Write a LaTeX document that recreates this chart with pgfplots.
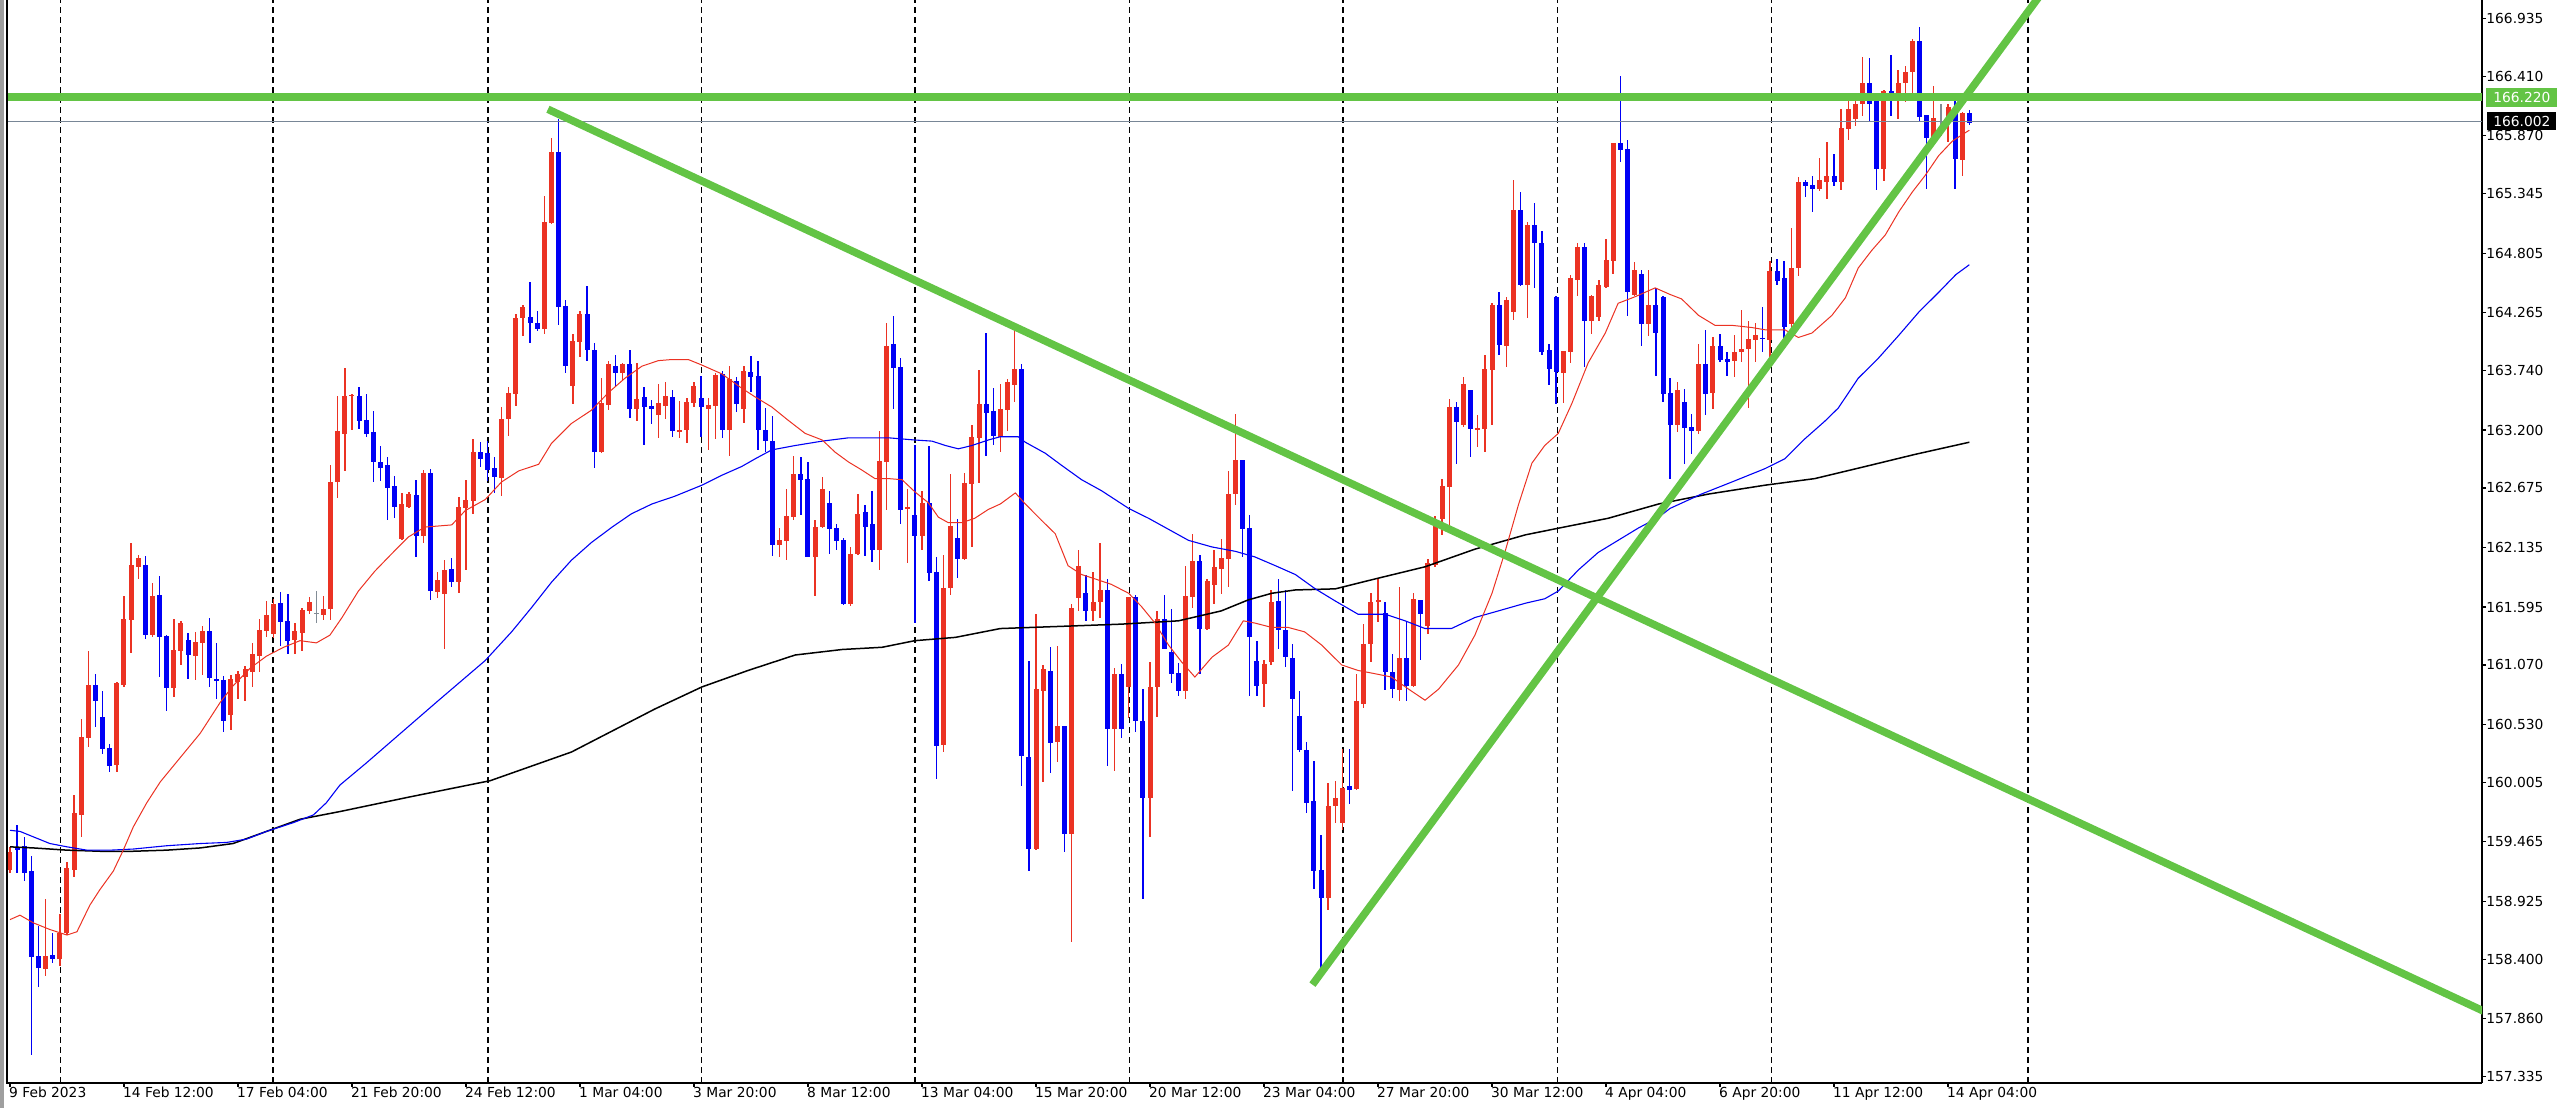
\documentclass[border=0pt]{standalone}
\usepackage{fontspec}
\setmainfont{DejaVu Sans}
\usepackage{pgfplots}
\pgfplotsset{compat=1.18}
\usepackage{pgfplotstable}
\definecolor{cred}{RGB}{235,50,35}
\definecolor{cblue}{RGB}{0,0,245}
\definecolor{cgreen}{RGB}{99,196,69}
\definecolor{cgray}{RGB}{120,134,150}
\definecolor{cdoji}{RGB}{130,140,150}

\pgfplotstableread{
i o h l c d
0 159.21 159.42 159.18 159.37 1
1 159.42 159.62 159.18 159.39 -1
2 159.43 159.51 159.11 159.18 -1
3 159.20 159.34 157.53 158.42 -1
4 158.43 158.70 158.15 158.32 -1
5 158.31 158.95 158.25 158.43 1
6 158.44 158.64 158.37 158.40 -1
7 158.40 158.81 158.34 158.64 1
8 158.64 159.28 158.62 159.23 1
9 159.21 159.89 159.15 159.73 1
10 159.71 160.58 159.51 160.42 1
11 160.41 161.20 160.33 160.89 1
12 160.89 160.99 160.51 160.74 -1
13 160.60 160.83 160.26 160.31 -1
14 160.32 160.35 160.10 160.15 -1
15 160.16 160.92 160.10 160.91 1
16 160.89 161.70 160.87 161.49 1
17 161.48 162.18 161.18 161.98 1
18 161.96 162.07 161.85 162.04 1
19 161.98 162.06 161.31 161.34 -1
20 161.34 161.81 161.32 161.70 1
21 161.70 161.88 160.96 161.32 -1
22 161.33 161.34 160.65 160.86 -1
23 160.86 161.49 160.78 161.21 1
24 161.20 161.47 161.07 161.45 1
25 161.30 161.36 160.94 161.16 -1
26 161.15 161.37 160.93 161.28 1
27 161.27 161.42 160.98 161.38 1
28 161.38 161.50 160.87 160.95 -1
29 160.94 161.27 160.76 160.92 -1
30 160.93 160.97 160.46 160.56 -1
31 160.62 160.98 160.48 160.94 1
32 160.92 161.02 160.76 160.99 1
33 160.96 161.06 160.74 161.03 1
34 161.01 161.27 160.87 161.17 1
35 161.15 161.49 161.01 161.39 1
36 161.38 161.65 161.32 161.52 1
37 161.35 161.67 161.31 161.62 1
38 161.63 161.73 161.24 161.46 -1
39 161.47 161.71 161.17 161.29 -1
40 161.30 161.45 161.17 161.38 1
41 161.36 161.59 161.20 161.57 1
42 161.56 161.69 161.53 161.64 1
43 161.54 161.74 161.45 161.54 0
44 161.52 161.70 161.48 161.58 1
45 161.58 162.88 161.48 162.73 1
46 162.73 163.51 162.58 163.19 1
47 163.17 163.76 162.83 163.51 1
48 163.51 163.53 163.20 163.52 1
49 163.51 163.59 163.21 163.28 -1
50 163.29 163.53 163.14 163.16 -1
51 163.18 163.37 162.73 162.91 -1
52 162.91 163.06 162.74 162.86 -1
53 162.88 162.96 162.39 162.68 -1
54 162.69 162.78 162.40 162.50 -1
55 162.21 162.63 162.20 162.53 1
56 162.50 162.64 162.49 162.62 1
57 162.61 162.75 162.05 162.24 -1
58 162.24 162.84 162.18 162.81 1
59 162.81 162.85 161.66 161.74 -1
60 161.73 161.91 161.68 161.84 1
61 161.71 162.02 161.21 161.93 1
62 161.94 162.04 161.78 161.82 -1
63 161.82 162.59 161.72 162.50 1
64 162.49 162.75 161.93 162.57 1
65 162.56 163.12 162.44 163.00 1
66 163.00 163.09 162.87 162.94 -1
67 162.99 163.10 162.74 162.84 -1
68 162.86 162.96 162.63 162.78 -1
69 162.77 163.41 162.60 163.30 1
70 163.30 163.59 163.15 163.54 1
71 163.53 164.25 163.42 164.22 1
72 164.22 164.34 164.05 164.32 1
73 164.23 164.54 163.99 164.17 -1
74 164.17 164.28 164.10 164.12 -1
75 164.12 165.32 164.07 165.09 1
76 165.08 165.85 165.07 165.72 1
77 165.72 166.02 164.15 164.32 -1
78 164.33 164.38 163.72 163.78 -1
79 163.60 164.07 163.44 164.01 1
80 164.00 164.28 163.86 164.25 1
81 164.25 164.51 163.83 163.93 -1
82 163.93 163.99 162.86 163.00 -1
83 163.00 163.67 162.99 163.45 1
84 163.43 163.83 163.38 163.80 1
85 163.78 163.88 163.59 163.72 -1
86 163.72 163.81 163.65 163.80 1
87 163.80 163.93 163.31 163.39 -1
88 163.39 163.81 163.28 163.48 1
89 163.50 163.59 163.07 163.41 -1
90 163.42 163.47 163.26 163.39 -1
91 163.34 163.62 163.13 163.45 1
92 163.42 163.64 163.30 163.51 1
93 163.50 163.56 163.14 163.19 -1
94 163.18 163.46 163.13 163.20 1
95 163.20 163.49 163.08 163.46 1
96 163.45 163.64 163.41 163.60 1
97 163.49 163.69 163.14 163.41 -1
98 163.39 163.49 163.02 163.43 1
99 163.42 163.72 163.12 163.70 1
100 163.71 163.74 163.13 163.20 -1
101 163.20 163.78 162.97 163.66 1
102 163.65 163.68 163.36 163.44 -1
103 163.39 163.78 163.26 163.74 1
104 163.73 163.87 163.55 163.68 -1
105 163.69 163.83 163.02 163.20 -1
106 163.20 163.40 163.00 163.10 -1
107 163.10 163.33 162.06 162.16 -1
108 162.16 162.31 162.05 162.20 1
109 162.19 162.67 162.02 162.42 1
110 162.41 162.97 162.39 162.80 1
111 162.80 162.96 162.43 162.75 -1
112 162.76 162.91 162.05 162.05 -1
113 162.05 162.39 161.70 162.32 1
114 162.32 162.78 162.31 162.67 1
115 162.54 162.65 162.08 162.30 -1
116 162.31 162.35 162.11 162.19 -1
117 162.20 162.22 161.61 161.62 -1
118 161.62 162.14 161.61 162.08 1
119 162.08 162.62 162.07 162.44 1
120 162.46 162.52 162.06 162.32 -1
121 162.35 162.65 162.00 162.11 -1
122 162.11 163.19 161.93 162.92 1
123 162.91 164.17 162.48 163.96 1
124 163.98 164.24 163.39 163.76 -1
125 163.77 163.85 162.35 162.48 -1
126 162.48 162.67 162.00 162.50 1
127 162.43 163.07 161.45 162.24 -1
128 162.24 162.65 162.11 162.54 1
129 162.54 163.06 161.83 161.90 -1
130 161.91 162.05 160.04 160.34 -1
131 160.34 162.07 160.28 161.77 1
132 161.77 162.80 161.70 162.33 1
133 162.22 162.39 161.86 162.03 -1
134 162.03 162.81 162.02 162.72 1
135 162.71 163.25 162.14 163.14 1
136 163.13 163.75 162.72 163.44 1
137 163.44 164.08 162.97 163.36 -1
138 163.37 163.58 163.07 163.15 -1
139 163.14 163.62 163.00 163.39 1
140 163.38 163.66 163.19 163.64 1
141 163.61 164.14 163.46 163.75 1
142 163.75 163.80 159.97 160.24 -1
143 160.24 161.11 159.20 159.40 -1
144 159.40 161.53 159.39 160.85 1
145 160.83 161.07 160.01 161.03 1
146 161.02 161.23 160.09 160.36 -1
147 160.37 161.24 160.19 160.52 1
148 160.52 160.52 159.37 159.54 -1
149 159.54 161.62 158.56 161.59 1
150 161.68 162.11 161.56 161.97 1
151 161.72 161.89 161.47 161.56 -1
152 161.56 161.91 161.47 161.64 1
153 161.64 162.18 161.50 161.75 1
154 161.75 161.85 160.15 160.49 -1
155 160.49 161.04 160.11 160.99 1
156 160.99 161.08 160.41 160.49 -1
157 160.87 161.69 160.59 161.69 1
158 161.69 161.70 160.46 160.56 -1
159 160.56 160.85 158.95 159.86 -1
160 159.86 161.10 159.51 160.87 1
161 160.87 161.56 160.60 161.49 1
162 161.49 161.70 161.21 161.21 -1
163 161.19 161.58 160.91 160.99 -1
164 161.00 161.09 160.79 160.83 -1
165 160.83 161.97 160.76 161.70 1
166 161.69 162.26 161.59 162.01 1
167 162.01 162.07 160.99 161.40 -1
168 161.40 161.85 161.39 161.83 1
169 161.80 162.11 161.62 161.96 1
170 161.94 162.21 161.71 162.04 1
171 162.03 162.83 161.78 162.62 1
172 162.62 163.35 162.52 162.93 1
173 162.93 162.93 162.05 162.30 -1
174 162.31 162.43 160.79 161.32 -1
175 161.11 161.29 160.79 160.88 -1
176 160.90 161.12 160.69 161.08 1
177 161.10 161.75 161.07 161.64 1
178 161.65 161.85 161.21 161.39 -1
179 161.39 161.75 161.05 161.14 -1
180 161.13 161.26 159.93 160.76 -1
181 160.61 160.83 160.28 160.30 -1
182 160.30 160.37 159.73 159.82 -1
183 159.84 160.20 159.04 159.20 -1
184 159.21 159.53 158.25 158.96 -1
185 158.96 160.00 158.85 159.79 1
186 159.79 160.02 159.64 159.86 1
187 159.64 160.31 159.57 159.95 1
188 159.97 160.31 159.81 159.94 -1
189 159.95 160.99 159.94 160.74 1
190 160.72 161.44 160.68 161.26 1
191 161.26 161.72 161.10 161.64 1
192 161.64 161.85 161.46 161.66 1
193 161.54 161.64 160.84 161.01 -1
194 161.01 161.17 160.77 160.85 -1
195 160.84 161.78 160.74 161.13 1
196 161.13 161.47 160.74 160.88 -1
197 160.88 161.72 160.87 161.67 1
198 161.66 161.66 161.12 161.53 -1
199 161.42 162.03 161.35 161.99 1
200 161.98 162.42 161.96 162.39 1
201 162.39 162.76 162.25 162.69 1
202 162.68 163.48 162.32 163.41 1
203 163.41 163.46 162.89 163.27 -1
204 163.25 163.68 163.23 163.62 1
205 163.56 163.56 162.96 163.21 -1
206 163.20 163.34 163.05 163.22 1
207 163.21 163.88 163.00 163.75 1
208 163.75 164.35 163.25 164.34 1
209 164.34 164.45 163.88 163.97 -1
210 163.96 164.41 163.77 164.38 1
211 164.27 165.47 164.20 165.20 1
212 165.20 165.36 164.51 164.52 -1
213 164.52 165.09 164.22 165.06 1
214 165.06 165.26 164.49 164.90 -1
215 164.90 165.01 163.88 163.91 -1
216 163.93 163.98 163.61 163.75 -1
217 164.41 164.42 163.44 163.73 -1
218 163.72 163.92 163.45 163.92 1
219 163.91 164.61 163.81 164.58 1
220 164.56 164.90 164.42 164.86 1
221 164.86 164.90 163.77 164.19 -1
222 164.19 164.43 164.07 164.42 1
223 164.23 164.56 164.19 164.52 1
224 164.50 164.93 164.49 164.74 1
225 164.73 165.80 164.62 165.80 1
226 165.80 166.41 165.63 165.74 -1
227 165.75 165.83 164.24 164.45 -1
228 164.43 164.73 164.42 164.65 1
229 164.62 164.65 163.96 164.16 -1
230 164.16 164.65 164.05 164.34 1
231 164.34 164.49 163.69 164.08 -1
232 164.41 164.42 163.46 163.53 -1
233 163.54 163.67 162.76 163.25 -1
234 163.25 163.64 163.18 163.56 1
235 163.46 163.57 162.89 163.22 -1
236 163.23 163.35 162.98 163.19 -1
237 163.19 163.98 163.16 163.80 1
238 163.80 164.11 163.34 163.53 -1
239 163.54 164.04 163.39 163.96 1
240 163.96 164.07 163.82 163.84 -1
241 163.85 163.91 163.69 163.82 -1
242 163.83 164.06 163.68 163.91 1
243 163.91 164.29 163.82 163.94 1
244 163.94 164.19 163.40 164.03 1
245 164.02 164.17 163.82 164.06 1
246 164.04 164.32 163.91 164.03 -1
247 164.02 164.73 163.79 164.64 1
248 164.64 164.75 164.52 164.55 -1
249 164.58 164.73 163.97 164.14 -1
250 164.16 165.03 164.12 164.67 1
251 164.67 165.50 164.60 165.45 1
252 165.45 165.47 165.31 165.41 -1
253 165.42 165.51 165.18 165.39 -1
254 165.39 165.67 165.37 165.47 1
255 165.45 165.81 165.30 165.51 1
256 165.51 165.70 165.41 165.45 -1
257 165.45 166.11 165.38 165.94 1
258 165.93 166.19 165.83 166.11 1
259 166.02 166.26 165.96 166.16 1
260 166.16 166.58 166.05 166.35 1
261 166.35 166.58 166.00 166.16 -1
262 166.26 166.26 165.38 165.57 -1
263 165.57 166.29 165.46 166.28 1
264 166.28 166.60 166.05 166.20 -1
265 166.19 166.47 166.02 166.35 1
266 166.35 166.50 166.18 166.45 1
267 166.45 166.75 166.19 166.73 1
268 166.73 166.86 166.00 166.04 -1
269 166.06 166.06 165.39 165.85 -1
270 165.85 166.32 165.84 166.03 1
271 165.94 166.16 165.87 165.94 0
272 165.99 166.16 165.81 166.13 1
273 166.13 166.19 165.39 165.66 -1
274 165.65 166.09 165.51 166.08 1
275 166.08 166.10 165.97 165.99 -1
}\candles

\pgfplotsset{
  candle/.style n args={3}{draw=none, mark=none, forget plot,
    restrict expr to domain={\thisrow{d}}{#1:#1},
    error bars/y dir=both, error bars/y explicit, error bars/error mark=none,
    error bars/error bar style={draw=#2, line width=#3, solid}},
}

\begin{document}
\begin{tikzpicture}
\path[use as bounding box] (-3.5pt,-12.5pt) rectangle (1276.5pt,541.5pt);
\fill[gray!75] (-3.5pt,-12.5pt) rectangle (-1.6pt,541.5pt);
\begin{axis}[
  at={(0pt,0pt)}, anchor=south west,
  scale only axis, width=1237.5pt, height=541.5pt,
  xmin=-0.421, xmax=346.95, ymin=157.278, ymax=167.101,
  axis x line*=bottom, axis y line*=right,
  axis line style={line width=0.8pt, black, -},
  tick align=outside, major tick length=2pt,
  tick style={black, line width=0.6pt},
  xtick={0,16,...,272},
  xticklabels={9 Feb 2023,14 Feb 12:00,17 Feb 04:00,21 Feb 20:00,24 Feb 12:00,1 Mar 04:00,3 Mar 20:00,8 Mar 12:00,13 Mar 04:00,15 Mar 20:00,20 Mar 12:00,23 Mar 04:00,27 Mar 20:00,30 Mar 12:00,4 Apr 04:00,6 Apr 20:00,11 Apr 12:00,14 Apr 04:00},
  xticklabel style={anchor=north west, inner sep=0pt, xshift=-0.6pt, font=\fontsize{6.9}{8}\selectfont},
  ytick={157.335,157.860,158.400,158.925,159.465,160.005,160.530,161.070,161.595,162.135,162.675,163.200,163.740,164.265,164.805,165.345,165.870,166.410,166.935},
  yticklabels={157.335,157.860,158.400,158.925,159.465,160.005,160.530,161.070,161.595,162.135,162.675,163.200,163.740,164.265,164.805,165.345,165.870,166.410,166.935},
  yticklabel style={anchor=west, inner sep=0pt, font=\fontsize{6.9}{8}\selectfont},
  clip=true,
]
% week separators
\pgfplotsinvokeforeach{7.07,36.95,67.05,97.07,127.0,157.1,187.1,217.2,247.2,283.2}{
  \draw[black, line width=0.8pt, dash pattern=on 3pt off 2pt] (axis cs:#1,157.278) -- (axis cs:#1,167.101);
}
% wicks
\addplot[candle={1}{cred}{0.65pt}] table[x=i, y expr={(\thisrow{h}+\thisrow{l})/2}, y error expr={(\thisrow{h}-\thisrow{l})/2}] {\candles};
\addplot[candle={-1}{cblue}{0.65pt}] table[x=i, y expr={(\thisrow{h}+\thisrow{l})/2}, y error expr={(\thisrow{h}-\thisrow{l})/2}] {\candles};
\addplot[candle={0}{cdoji}{0.65pt}] table[x=i, y expr={(\thisrow{h}+\thisrow{l})/2}, y error expr={(\thisrow{h}-\thisrow{l})/2}] {\candles};
% bodies
\addplot[candle={1}{cred}{2.5pt}] table[x=i, y expr={(\thisrow{o}+\thisrow{c})/2}, y error expr={max(abs(\thisrow{c}-\thisrow{o})/2,0.005)}] {\candles};
\addplot[candle={-1}{cblue}{2.5pt}] table[x=i, y expr={(\thisrow{o}+\thisrow{c})/2}, y error expr={max(abs(\thisrow{c}-\thisrow{o})/2,0.005)}] {\candles};
\addplot[candle={0}{cdoji}{2.5pt}] table[x=i, y expr={(\thisrow{o}+\thisrow{c})/2}, y error expr={max(abs(\thisrow{c}-\thisrow{o})/2,0.005)}] {\candles};
% moving averages
\addplot[black, line width=0.75pt] coordinates {(0,159.42) (3.3,159.41) (8,159.39) (12.6,159.38) (17.3,159.38) (22,159.39) (26.7,159.41) (31.3,159.45) (36,159.56) (40.7,159.67) (46.3,159.74) (55.9,159.87) (67.4,160.02) (78.8,160.28) (90.5,160.67) (97.1,160.87) (103.6,161.02) (110.2,161.16) (116.8,161.21) (122.4,161.23) (127,161.29) (132.7,161.32) (139,161.40) (147.6,161.42) (156,161.44) (164,161.47) (170,161.56) (173.8,161.66) (177.1,161.72) (180.4,161.75) (186,161.76) (191.6,161.85) (198.6,161.96) (205.6,162.12) (212.7,162.25) (217.3,162.31) (224.3,162.40) (231.4,162.53) (238.4,162.62) (246.3,162.70) (253.3,162.76) (260.4,162.87) (267.4,162.98) (275,163.09)};
\addplot[cblue, line width=0.55pt] coordinates {(0,159.57) (1.4,159.56) (3.3,159.51) (5.6,159.45) (8,159.42) (10.8,159.39) (14.1,159.39) (17.3,159.40) (22,159.43) (26.7,159.45) (30.4,159.46) (33.2,159.49) (36,159.56) (39.8,159.64) (42.6,159.71) (44.4,159.82) (46.3,159.98) (50,160.18) (55,160.46) (60,160.74) (66.7,161.11) (70.4,161.37) (73.2,161.59) (76,161.82) (78.8,162.02) (81.6,162.18) (84.5,162.32) (87.2,162.44) (90.1,162.53) (93.3,162.60) (97.1,162.70) (99.9,162.79) (102.7,162.87) (104.6,162.94) (106.9,163.02) (110.2,163.06) (114,163.10) (117.7,163.13) (120.5,163.13) (123.3,163.13) (127,163.11) (129.4,163.10) (131.3,163.06) (133.1,163.03) (135,163.06) (137.3,163.11) (139,163.14) (141.5,163.14) (142.5,163.09) (145.3,162.99) (147.6,162.88) (150.4,162.75) (153.2,162.65) (157,162.49) (159.8,162.40) (162.6,162.30) (165.4,162.20) (168.7,162.14) (172,162.10) (174.7,162.05) (177.6,161.97) (180.4,161.89) (183.2,161.76) (186,161.65) (189.2,161.53) (193,161.53) (195.8,161.47) (198.6,161.40) (202.3,161.40) (205.6,161.50) (208.9,161.56) (212.7,161.63) (215.4,161.67) (217.3,161.74) (220.1,161.93) (222.9,162.09) (225.7,162.20) (228.5,162.31) (231.4,162.41) (233,162.49) (237.4,162.62) (241.7,162.73) (246.3,162.85) (249.1,162.94) (251.9,163.12) (254.7,163.28) (256.6,163.40) (259.4,163.67) (262.2,163.85) (265.1,164.06) (267.9,164.27) (270.7,164.45) (273.1,164.61) (275,164.70)};
\addplot[cred, line width=0.5pt] coordinates {(0,158.76) (1.4,158.80) (3.3,158.73) (5.6,158.67) (8,158.62) (9.4,158.65) (11.2,158.89) (12.6,159.03) (14.5,159.20) (15.9,159.39) (17.3,159.60) (19.2,159.82) (21.1,160.01) (23.9,160.23) (26.7,160.45) (29.5,160.73) (31.3,160.88) (33.7,161.04) (36,161.15) (38.4,161.23) (40.7,161.29) (43,161.27) (44.9,161.34) (46.6,161.50) (48.9,161.74) (51.2,161.92) (53.6,162.08) (55.9,162.23) (58.2,162.32) (62,162.34) (63.9,162.47) (66.7,162.57) (69,162.73) (71.4,162.83) (74.2,162.89) (76,163.08) (78.8,163.26) (81.6,163.38) (84,163.54) (86.3,163.67) (88.7,163.78) (91,163.83) (92.9,163.84) (95.2,163.84) (97.1,163.79) (99.9,163.71) (102.7,163.58) (104.6,163.50) (106.9,163.41) (109.2,163.29) (111.6,163.17) (114,163.11) (115.8,163.00) (117.7,162.91) (119.5,162.84) (121.4,162.76) (123.3,162.76) (125.2,162.75) (127,162.64) (128.9,162.54) (130.3,162.41) (131.7,162.36) (133.6,162.36) (135.4,162.40) (137.3,162.48) (139,162.53) (141.1,162.63) (142.5,162.53) (144.8,162.38) (146.7,162.26) (148.5,161.97) (150.4,161.89) (152.3,161.85) (154.6,161.80) (157,161.72) (158.8,161.60) (160.7,161.45) (162.6,161.25) (164.4,161.10) (166.3,160.96) (168.7,161.14) (171,161.25) (173.1,161.47) (174.7,161.45) (177.1,161.41) (179.4,161.41) (181.7,161.37) (184.1,161.25) (186.9,161.07) (189.2,161.02) (191.6,160.99) (193.9,160.96) (196.3,160.85) (198.6,160.75) (200.5,160.85) (203.3,161.07) (205.6,161.34) (208,161.72) (209.8,162.09) (211.7,162.52) (213.6,162.90) (215.4,163.06) (217.3,163.17) (219.2,163.44) (221.5,163.81) (223.9,164.08) (225.7,164.35) (228.1,164.41) (230.9,164.49) (233,164.43) (234.6,164.39) (237,164.24) (239.3,164.15) (241.7,164.15) (244.5,164.13) (246.3,164.11) (249.1,164.11) (251,164.04) (252.9,164.08) (255.7,164.24) (257.6,164.40) (259.4,164.67) (261.3,164.83) (263.2,164.97) (265.1,165.18) (267,165.36) (268.8,165.51) (270.7,165.69) (272.6,165.82) (274,165.88) (275,165.92)};
% price lines
\addplot[cgray, line width=0.6pt] coordinates {(-0.421,166.002) (346.95,166.002)};
\addplot[cgreen, line width=4pt] coordinates {(-0.421,166.22) (346.95,166.22)};
% trend lines
\addplot[cgreen, line width=3.8pt] coordinates {(75.5,166.11) (347.5,157.92)};
\addplot[cgreen, line width=3.8pt] coordinates {(182.8,158.17) (290,167.59)};
\coordinate (gl) at (axis cs:346.95,166.22);
\coordinate (bl) at (axis cs:346.95,166.002);
\end{axis}
\draw[black, line width=0.8pt] (0,-0.4pt) -- (0,541.5pt);
\node[fill=cgreen, text=white, inner sep=0pt, minimum width=35.5pt, minimum height=9.5pt, anchor=west, font=\fontsize{6.9}{8}\selectfont] at ([xshift=2pt]gl) {166.220};
\node[fill=black, text=white, inner sep=0pt, minimum width=34.5pt, minimum height=9pt, anchor=west, font=\fontsize{6.9}{8}\selectfont] at ([xshift=2.5pt]bl) {166.002};
\end{tikzpicture}
\end{document}
